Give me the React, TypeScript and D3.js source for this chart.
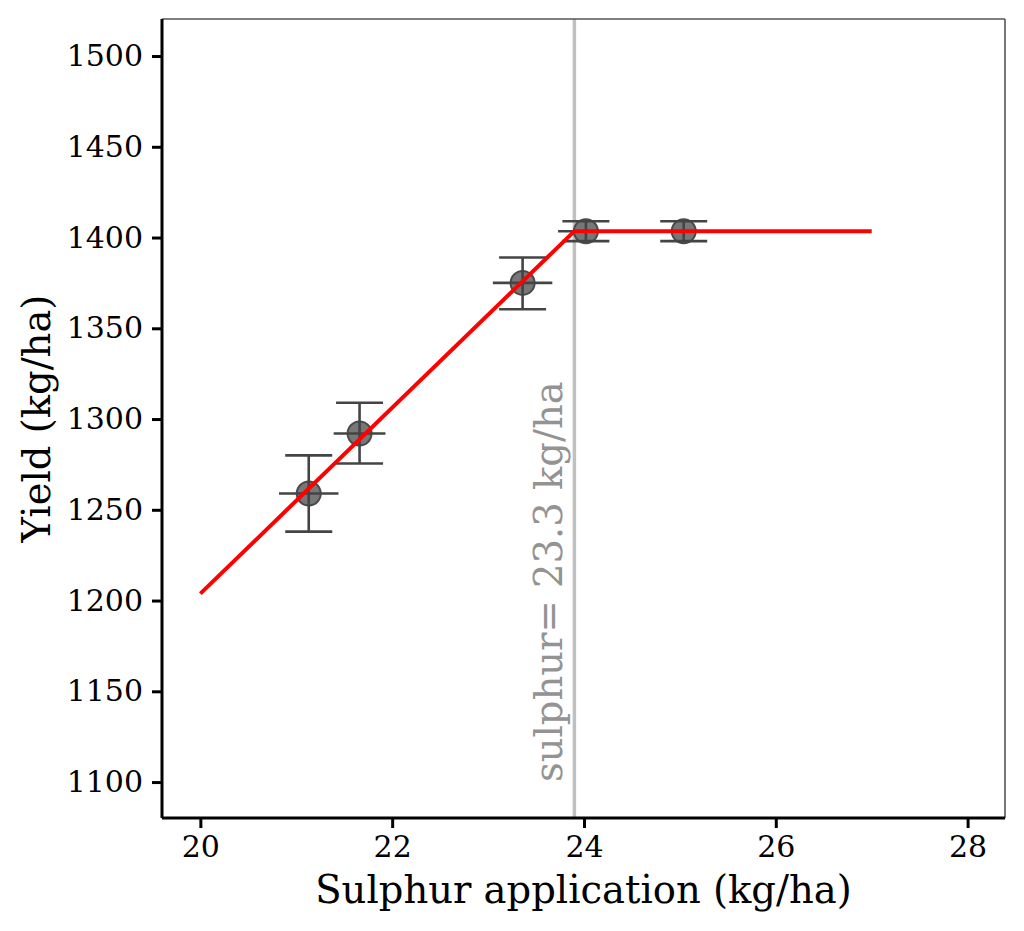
import { useEffect, useRef } from 'react';
import * as d3 from 'd3';

// Measured trial points (sulphur application vs yield)
const sulphur = [21.13, 21.66, 23.36, 24.02, 25.04];
const yieldMean = [1259, 1292, 1375, 1403.5, 1403.5];
const yieldLow = [1238, 1275.5, 1360.5, 1398, 1398];
const yieldHigh = [1280, 1309, 1389, 1409, 1409];
const sulphurErr = [0.31, 0.27, 0.31, 0.29, 0.26];

// Fitted linear-plateau model
const fitX = [20, 23.9, 27];
const fitY = [1203.8, 1403.5, 1403.5];
const breakPoint = 23.9;
const breakLabel = 'sulphur= 23.3 kg/ha';

const xTicks = [20, 22, 24, 26, 28];
const yTicks = [1100, 1150, 1200, 1250, 1300, 1350, 1400, 1450, 1500];

const FONT = '"DejaVu Serif", serif';

export default function App() {
  const svgRef = useRef<SVGSVGElement>(null);

  useEffect(() => {
    if (!svgRef.current) return;
    d3.select(svgRef.current).selectAll('*').remove();

    const W = 1024;
    const H = 931;
    const margin = { top: 19, right: 19, bottom: 113, left: 162 };
    const width = W - margin.left - margin.right;
    const height = H - margin.top - margin.bottom;

    const svg = d3.select(svgRef.current);
    const g = svg.append('g').attr('transform', `translate(${margin.left},${margin.top})`);

    const x = d3.scaleLinear().domain([19.6, 28.39]).range([0, width]);
    const y = d3.scaleLinear().domain([1080.2, 1520.4]).range([height, 0]);

    // vertical marker at the break point
    g.append('line')
      .attr('x1', x(breakPoint)).attr('x2', x(breakPoint))
      .attr('y1', 0).attr('y2', height)
      .attr('stroke', '#c0c0c0')
      .attr('stroke-width', 3.5);

    g.append('text')
      .attr('transform', `translate(${x(breakPoint) - 12},${height - 36}) rotate(-90)`)
      .attr('font-family', FONT)
      .attr('font-size', 38.5)
      .attr('fill', '#939393')
      .text(breakLabel);

    const pts = sulphur.map((s, i) => ({
      s, m: yieldMean[i], lo: yieldLow[i], hi: yieldHigh[i], xe: sulphurErr[i]
    }));

    // markers
    g.selectAll('circle.pt')
      .data(pts)
      .join('circle')
      .attr('class', 'pt')
      .attr('cx', d => x(d.s))
      .attr('cy', d => y(d.m))
      .attr('r', 12)
      .attr('fill', '#777777')
      .attr('stroke', '#4a4a4a')
      .attr('stroke-width', 2);

    // error bars
    const eb = g.append('g').attr('stroke', '#444444').attr('stroke-width', 2.6);
    const cap = 23.5;
    pts.forEach(d => {
      eb.append('line')
        .attr('x1', x(d.s)).attr('x2', x(d.s))
        .attr('y1', y(d.lo)).attr('y2', y(d.hi));
      eb.append('line')
        .attr('x1', x(d.s) - cap).attr('x2', x(d.s) + cap)
        .attr('y1', y(d.lo)).attr('y2', y(d.lo));
      eb.append('line')
        .attr('x1', x(d.s) - cap).attr('x2', x(d.s) + cap)
        .attr('y1', y(d.hi)).attr('y2', y(d.hi));
      eb.append('line')
        .attr('x1', x(d.s - d.xe)).attr('x2', x(d.s + d.xe))
        .attr('y1', y(d.m)).attr('y2', y(d.m));
    });

    // fitted line
    const line = d3.line<number>()
      .x(d => x(d))
      .y((_, i) => y(fitY[i]));
    g.append('path')
      .datum(fitX)
      .attr('fill', 'none')
      .attr('stroke', '#ff0000')
      .attr('stroke-width', 4)
      .attr('d', line);

    // frame: thin top/right, heavy left/bottom
    g.append('line').attr('x1', 0).attr('x2', width).attr('y1', 0).attr('y2', 0)
      .attr('stroke', '#555').attr('stroke-width', 1.6);
    g.append('line').attr('x1', width).attr('x2', width).attr('y1', 0).attr('y2', height)
      .attr('stroke', '#555').attr('stroke-width', 1.6);

    const xAxis = g.append('g')
      .attr('transform', `translate(0,${height})`)
      .call(d3.axisBottom(x).tickValues(xTicks).tickSize(10).tickPadding(8).tickFormat(d3.format('d')));
    const yAxis = g.append('g')
      .call(d3.axisLeft(y).tickValues(yTicks).tickSize(10).tickPadding(9).tickFormat(d3.format('d')));

    [xAxis, yAxis].forEach(a => {
      a.select('.domain').attr('stroke', '#000').attr('stroke-width', 3);
      a.selectAll('.tick line').attr('stroke', '#000').attr('stroke-width', 3);
      a.selectAll('.tick text')
        .attr('font-family', FONT)
        .attr('font-size', 30)
        .attr('fill', '#000');
    });
    xAxis.select('.domain').attr('d', `M0,0H${width}`);
    yAxis.select('.domain').attr('d', `M0,0V${height}`);

    // axis titles
    svg.append('text')
      .attr('x', margin.left + width / 2)
      .attr('y', 903)
      .attr('text-anchor', 'middle')
      .attr('font-family', FONT)
      .attr('font-size', 38.5)
      .attr('fill', '#000')
      .text('Sulphur application (kg/ha)');

    svg.append('text')
      .attr('transform', `translate(50,${margin.top + height / 2}) rotate(-90)`)
      .attr('text-anchor', 'middle')
      .attr('font-family', FONT)
      .attr('font-size', 38.5)
      .attr('fill', '#000')
      .text('Yield (kg/ha)');
  }, []);

  return (
    <svg
      ref={svgRef}
      width={1024}
      height={931}
      style={{ position: 'absolute', left: 0, top: 0, background: '#fff' }}
    />
  );
}
